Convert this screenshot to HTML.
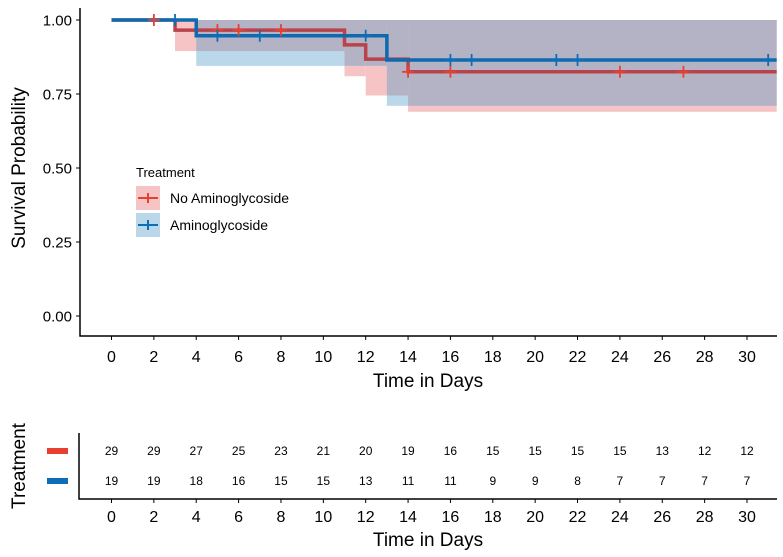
<!DOCTYPE html>
<html><head><meta charset="utf-8"><style>
body{margin:0;background:#fff;}
svg{display:block;font-family:"Liberation Sans",sans-serif;}
</style></head><body>
<svg id="c" width="783" height="557" viewBox="0 0 783 557" xmlns="http://www.w3.org/2000/svg">
<g id="plot"></g>
</svg>
<script>
const ticksX=[0,2,4,6,8,10,12,14,16,18,20,22,24,26,28,30];
const ticksY=[0,0.25,0.5,0.75,1];
const tickYLabels=["0.00","0.25","0.50","0.75","1.00"];
const xEnd=31.4;
const redT=[0,3,11,12,14];
const redS=[1,0.966,0.916,0.868,0.825];
const redLo=[1,0.895,0.81,0.745,0.69];
const redHi=[1,1,1,1,1];
const blueT=[0,4,13];
const blueS=[1,0.947,0.865];
const blueLo=[1,0.845,0.71];
const blueHi=[1,1,1];
const redCens=[2,5,6,8,14,16,24,27];
const blueCens=[3,5,7,12,16,17,21,22,31];
const riskRed=[29,29,27,25,23,21,20,19,16,15,15,15,15,13,12,12];
const riskBlue=[19,19,18,16,15,15,13,11,11,9,9,8,7,7,7,7];

const NS="http://www.w3.org/2000/svg";
const g=document.getElementById('plot');
const sx=t=>111.5+t*(747-111.5)/30;
const sy=v=>316-v*296;
function el(tag,attrs,parent){const e=document.createElementNS(NS,tag);for(const k in attrs)e.setAttribute(k,attrs[k]);(parent||g).appendChild(e);return e;}
function txt(x,y,s,size,anchor,extra){const e=el('text',Object.assign({x:x,y:y,'font-size':size,'text-anchor':anchor||'middle',fill:'#000'},extra||{}));e.textContent=s;return e;}
function stepPath(T,S){let d='';for(let i=0;i<T.length;i++){const x0=sx(T[i]),x1=sx(i+1<T.length?T[i+1]:xEnd);d+=(i===0?'M':'L')+x0+','+sy(S[i])+'L'+x1+','+sy(S[i]);}return d;}
function band(T,lo,hi,color,name){for(let i=0;i<T.length;i++){const x0=sx(T[i]),x1=sx(i+1<T.length?T[i+1]:xEnd);const r=el('rect',{x:x0,y:sy(hi[i]),width:x1-x0,height:sy(lo[i])-sy(hi[i]),fill:color});

}}
band(redT,redLo,redHi,'#F6C4C4','ci-band-no-aminoglycoside');
band(blueT,blueLo,blueHi,'#BBD8EB','ci-band-aminoglycoside');
const ov=el('g',{});


for(let i=0;i<redT.length;i++){const a=redT[i],b=i+1<redT.length?redT[i+1]:xEnd;for(let j=0;j<blueT.length;j++){const c=blueT[j],d=j+1<blueT.length?blueT[j+1]:xEnd;const s=Math.max(a,c),e=Math.min(b,d);if(e<=s)continue;const lo=Math.max(redLo[i],blueLo[j]);if(lo>=1)continue;el('rect',{x:sx(s),y:sy(1),width:sx(e)-sx(s),height:sy(lo)-sy(1),fill:'#B4B3C6'},ov);}}
const rp=el('path',{d:stepPath(redT,redS),fill:'none',stroke:'#B8434A','stroke-width':3.5});


const bp=el('path',{d:stepPath(blueT,blueS),fill:'none',stroke:'#0E6AAE','stroke-width':3.5});


function survAt(T,S,t){let v=S[0];for(let i=0;i<T.length;i++)if(t>=T[i])v=S[i];return v;}
function cens(times,T,S,color,name){times.forEach(t=>{const x=sx(t),y=sy(survAt(T,S,t));const p=el('path',{d:`M${x-6},${y}L${x+6},${y}M${x},${y-6}L${x},${y+6}`,stroke:color,'stroke-width':1.8});

});}
cens(redCens,redT,redS,'#E8402F','censor-mark-no-aminoglycoside');
cens(blueCens,blueT,blueS,'#0E6EB5','censor-mark-aminoglycoside');
el('path',{d:'M80,8L80,336L777,336',fill:'none',stroke:'#000','stroke-width':1.5});
ticksY.forEach((v,i)=>{el('line',{x1:76,x2:80,y1:sy(v),y2:sy(v),stroke:'#000'});const t=txt(72,sy(v)+5.5,tickYLabels[i],15,'end');

});
ticksX.forEach(v=>{el('line',{x1:sx(v),x2:sx(v),y1:336,y2:340,stroke:'#000'});const t=txt(sx(v),362,String(v),16);

});
const xt=txt(428,387,'Time in Days',19);


const yt=txt(0,0,'Survival Probability',19,'middle',{transform:'translate(25,168) rotate(-90)'});


const lg=el('g',{});


txt(136,177,'Treatment',13,'start');
[['No Aminoglycoside','#F6C4C4','#E8402F',186],['Aminoglycoside','#BBD8EB','#0E6EB5',213]].forEach(([lab,bg,c,y])=>{
const k=el('g',{},lg);


el('rect',{x:136,y:y,width:24,height:24,fill:bg},k);
el('path',{d:`M138,${y+12}L158,${y+12}M148,${y+7}L148,${y+17}`,stroke:c,'stroke-width':2},k);
const t=el('text',{x:170,y:y+17,'font-size':14,fill:'#000'},k);t.textContent=lab;});
el('path',{d:'M79,433L79,499L777,499',fill:'none',stroke:'#000','stroke-width':1.5});
ticksX.forEach((v,i)=>{el('line',{x1:sx(v),x2:sx(v),y1:499,y2:503,stroke:'#000'});
const t=txt(sx(v),522,String(v),16);


const a=txt(sx(v),455,String(riskRed[i]),12);


const b=txt(sx(v),485,String(riskBlue[i]),12);

});
const r1=el('rect',{x:47,y:448,width:21,height:6,fill:'#E8402F'});


const r2=el('rect',{x:47,y:478,width:21,height:6,fill:'#0E6EB5'});


const xt2=txt(428,546,'Time in Days',19);


const yt2=txt(0,0,'Treatment',19,'middle',{transform:'translate(25,466) rotate(-90)'});


</script>
</body></html>
